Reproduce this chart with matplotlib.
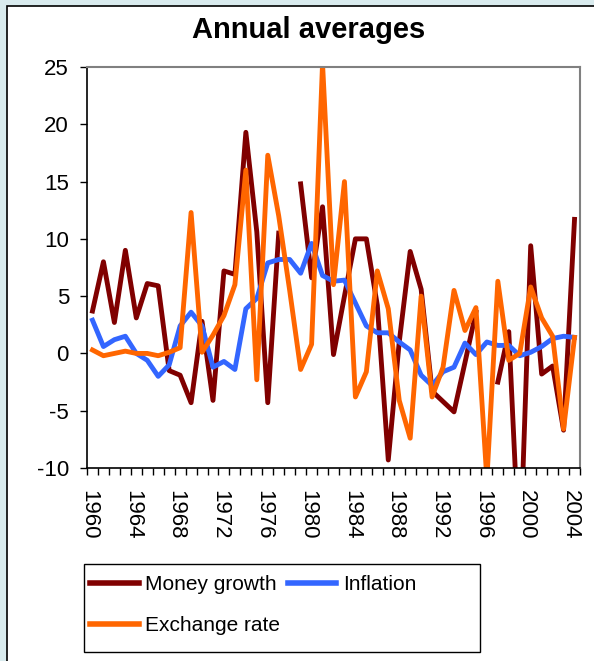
import numpy as np
import matplotlib
matplotlib.use("Agg")
import matplotlib.pyplot as plt
import matplotlib.transforms as mtransforms
from matplotlib.patches import Rectangle

plt.rcParams['font.family'] = ['Liberation Sans', 'DejaVu Sans']
plt.rcParams['axes.unicode_minus'] = False

nan = np.nan

# Annual averages, 1960-2004
years = list(range(1960, 2005))

money_growth = [3.7, 8.0, 2.7, 9.0, 3.1, 6.1, 5.9, -1.5, -1.9, -4.3,
                2.8, -4.1, 7.2, 6.9, 19.3, 10.6, -4.3, 10.5, nan, 14.8,
                6.6, 12.8, -0.1, 5.0, 10.0, 10.0, 4.2, -9.3, 1.0, 8.9,
                5.6, -3.3, -4.2, -5.1, -0.8, 3.6, nan, -2.5, 1.9, -18.5,
                9.4, -1.8, -1.1, -6.7, 11.7]

inflation = [2.9, 0.6, 1.2, 1.5, 0.0, -0.6, -2.0, -1.0, 2.4, 3.6,
             2.4, -1.2, -0.7, -1.4, 3.9, 4.8, 7.9, 8.2, 8.2, 7.0,
             9.6, 6.8, 6.3, 6.4, 4.4, 2.4, 1.8, 1.8, 1.0, 0.3,
             -1.9, -2.8, -1.6, -1.2, 0.9, -0.1, 1.0, 0.7, 0.7, -0.2,
             0.1, 0.6, 1.3, 1.5, 1.4]

exchange_rate = [0.3, -0.2, 0.0, 0.2, 0.0, 0.0, -0.2, 0.1, 0.5, 12.3,
                 0.1, 1.6, 3.3, 6.0, 16.0, -2.3, 17.3, 12.0, 5.5, -1.4,
                 0.8, 25.3, 6.0, 15.0, -3.8, -1.6, 7.2, 3.9, -4.1, -7.4,
                 5.0, -3.8, -1.2, 5.5, 2.0, 4.0, -11.0, 6.3, -0.6, 0.0,
                 5.8, 3.1, 1.5, -6.6, 1.4]

W, H = 594, 661
fig = plt.figure(figsize=(W / 100, H / 100), dpi=100)
fig.patch.set_facecolor('#d9ebee')

# white chart area with black border
fig.add_artist(Rectangle((7 / W, -0.02), 1.0, 1 - 6 / H + 0.02, transform=fig.transFigure,
                         facecolor='white', edgecolor='black', lw=1.2, zorder=0))

ax = fig.add_axes([87 / W, 1 - 468 / H, (580 - 87) / W, (468 - 67) / H])
x = np.arange(len(years))

l1, = ax.plot(x, money_growth, color='#800000', lw=3.5, label='Money growth')
l2, = ax.plot(x, inflation, color='#3366ff', lw=3.5, label='Inflation')
l3, = ax.plot(x, exchange_rate, color='#ff6600', lw=3.5, label='Exchange rate')

ax.set_xlim(-0.5, len(years) - 0.5)
ax.set_ylim(-10, 25)
ax.set_yticks(range(-10, 30, 5))
ax.tick_params(axis='y', direction='out', length=5, width=1, labelsize=16, pad=8)

ax.set_xticks(np.arange(-0.5, len(years), 1), minor=True)
ax.set_xticks(x[::4])
ax.set_xticklabels([str(y) for y in years[::4]], rotation=-90, va='top', ha='center')
ax.tick_params(axis='x', which='major', length=0, labelsize=16, pad=16)
ax.tick_params(axis='x', which='minor', direction='out', length=5, width=1)

# nudge the rotated year labels a little left, like the original
shift = mtransforms.ScaledTranslation(-4 / 100, 0, fig.dpi_scale_trans)
for lab in ax.get_xticklabels():
    lab.set_transform(lab.get_transform() + shift)

for s in ['left', 'bottom']:
    ax.spines[s].set_color('black')
    ax.spines[s].set_linewidth(1.2)
for s in ['top', 'right']:
    ax.spines[s].set_color('#808080')
    ax.spines[s].set_linewidth(1.5)

fig.text(0.519, 1 - 30 / H, 'Annual averages', ha='center', va='center',
         fontsize=21, fontweight='bold')

# legend box and entries
fig.add_artist(Rectangle((84 / W, 1 - 652 / H), 396 / W, 88 / H, transform=fig.transFigure,
                         facecolor='white', edgecolor='black', lw=1))
leg = fig.legend([l1, l3, l2], ['Money growth', 'Exchange rate', 'Inflation'], ncol=2,
                 loc='upper left', bbox_to_anchor=(90 / W, 1 - 575 / H), frameon=False,
                 fontsize=15, borderpad=0, borderaxespad=0, handlelength=2.35,
                 handletextpad=0.3, columnspacing=0.35, labelspacing=1.05)
for h in leg.get_lines():
    h.set_linewidth(4)

fig.savefig('out.png', dpi=100, facecolor=fig.get_facecolor())
